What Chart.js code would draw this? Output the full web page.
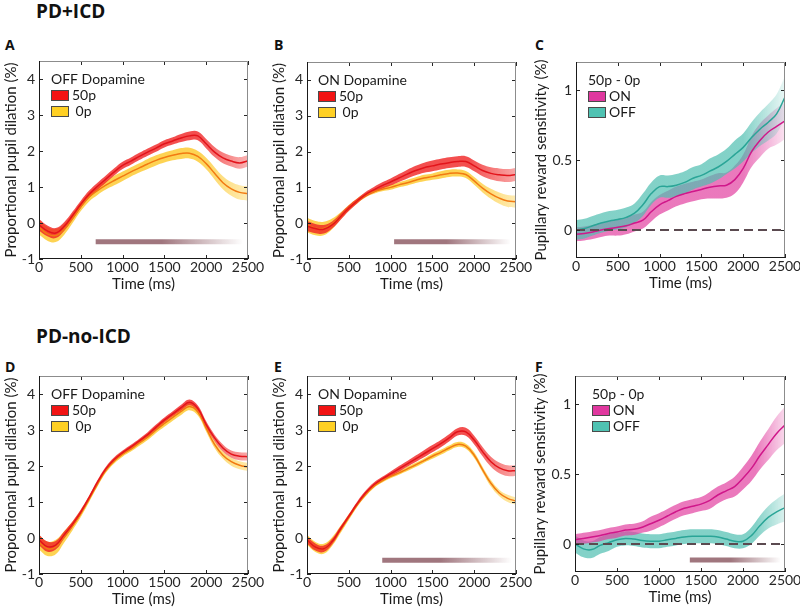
<!DOCTYPE html>
<html lang="en">
<head>
<meta charset="UTF-8">
<title>Pupil dilation</title>
<script src="https://cdn.jsdelivr.net/npm/chart.js"></script>
<style>
  body { margin:0; width:800px; height:609px; overflow:hidden; background:#fff; position:relative; }
  canvas { position:absolute; }
  .head { position:absolute; font-family:'Open Sans', sans-serif; font-weight:700; color:#111; line-height:1; }
</style>
</head>
<body>
<div class="head" style="left:36px;top:2px;font-size:19px">PD+ICD</div>
<div class="head" style="left:36px;top:327px;font-size:19px">PD-no-ICD</div>
<div class="head" style="left:5px;top:38px;font-size:14px">A</div>
<div class="head" style="left:274px;top:38px;font-size:14px">B</div>
<div class="head" style="left:535px;top:38px;font-size:14px">C</div>
<div class="head" style="left:5px;top:360px;font-size:14px">D</div>
<div class="head" style="left:274px;top:360px;font-size:14px">E</div>
<div class="head" style="left:535px;top:360px;font-size:14px">F</div>

<canvas id="cA"></canvas>
<canvas id="cB"></canvas>
<canvas id="cC"></canvas>
<canvas id="cD"></canvas>
<canvas id="cE"></canvas>
<canvas id="cF"></canvas>

<script>
// time axis (ms) and tick labels
const timeMs = [0,100,200,300,400,500,600,700,800,900,1000,1100,1200,1300,1400,1500,1600,1700,1800,1900,2000,2100,2200,2300,2400,2500];
const xTicks = [0,500,1000,1500,2000,2500];
const dilationTicks = [-1,0,1,2,3,4];
const sensTicks = [0,0.5,1];

// A: PD+ICD, OFF dopamine
const a50Mean = [-0.05,-0.22,-0.28,-0.1,0.2,0.52,0.8,1.02,1.22,1.42,1.6,1.72,1.85,1.97,2.08,2.2,2.28,2.36,2.42,2.42,2.2,1.97,1.81,1.72,1.67,1.73];
const a50Sem  = [0.16,0.15,0.14,0.12,0.11,0.1,0.1,0.1,0.1,0.1,0.1,0.1,0.1,0.1,0.1,0.1,0.1,0.11,0.12,0.12,0.13,0.14,0.15,0.15,0.16,0.16];
const a0Mean  = [-0.12,-0.3,-0.35,-0.18,0.12,0.45,0.72,0.9,1.05,1.18,1.3,1.42,1.53,1.64,1.74,1.82,1.88,1.93,1.94,1.85,1.65,1.38,1.12,0.95,0.85,0.82];
const a0Sem   = [0.2,0.19,0.18,0.15,0.13,0.12,0.12,0.12,0.12,0.13,0.13,0.13,0.13,0.14,0.14,0.14,0.14,0.15,0.15,0.15,0.16,0.17,0.18,0.19,0.2,0.2];
const aSig = [678, 2440, -0.52];

// B: PD+ICD, ON dopamine
const b50Mean = [-0.08,-0.15,-0.17,-0.05,0.18,0.42,0.62,0.8,0.93,1.05,1.15,1.26,1.37,1.47,1.55,1.6,1.65,1.69,1.72,1.72,1.6,1.47,1.39,1.35,1.33,1.36];
const b50Sem  = [0.14,0.13,0.12,0.1,0.09,0.08,0.07,0.07,0.08,0.09,0.1,0.11,0.12,0.13,0.14,0.15,0.15,0.15,0.15,0.15,0.15,0.16,0.17,0.18,0.18,0.18];
const b0Mean  = [-0.05,-0.14,-0.15,-0.02,0.2,0.43,0.62,0.78,0.88,0.95,1.0,1.07,1.13,1.2,1.26,1.3,1.35,1.39,1.4,1.36,1.18,0.98,0.82,0.7,0.62,0.6];
const b0Sem   = [0.2,0.2,0.19,0.15,0.1,0.08,0.07,0.06,0.06,0.06,0.07,0.07,0.08,0.08,0.09,0.09,0.1,0.1,0.1,0.1,0.11,0.12,0.14,0.16,0.17,0.17];
const bSig = [1042, 2436, -0.52];

// C: PD+ICD, 50p - 0p
const cOnMean  = [-0.03,-0.025,-0.015,0.0,0.01,0.02,0.03,0.05,0.07,0.13,0.18,0.21,0.24,0.26,0.275,0.29,0.305,0.315,0.32,0.36,0.44,0.56,0.64,0.7,0.74,0.78];
const cOnSem   = [0.05,0.05,0.05,0.05,0.05,0.06,0.06,0.06,0.06,0.07,0.07,0.07,0.07,0.07,0.07,0.07,0.08,0.09,0.09,0.1,0.1,0.11,0.12,0.12,0.13,0.13];
const cOffMean = [0.0,0.01,0.03,0.05,0.065,0.075,0.09,0.12,0.18,0.26,0.31,0.31,0.32,0.34,0.37,0.39,0.42,0.45,0.49,0.54,0.59,0.66,0.72,0.77,0.83,0.95];
const cOffSem  = [0.07,0.07,0.07,0.07,0.07,0.07,0.07,0.07,0.08,0.08,0.08,0.08,0.08,0.08,0.08,0.08,0.09,0.09,0.09,0.1,0.1,0.11,0.12,0.13,0.14,0.15];

// D: PD-no-ICD, OFF dopamine
const d50Mean = [-0.05,-0.24,-0.2,0.08,0.38,0.72,1.12,1.55,1.92,2.18,2.37,2.53,2.7,2.87,3.08,3.28,3.45,3.62,3.77,3.6,3.15,2.78,2.5,2.33,2.27,2.26];
const d50Sem  = [0.15,0.14,0.12,0.1,0.08,0.07,0.06,0.06,0.06,0.06,0.06,0.06,0.06,0.07,0.07,0.07,0.07,0.08,0.08,0.08,0.09,0.09,0.1,0.1,0.11,0.11];
const d0Mean  = [-0.12,-0.3,-0.25,0.03,0.33,0.68,1.08,1.5,1.88,2.14,2.33,2.47,2.64,2.8,3.0,3.18,3.35,3.52,3.65,3.5,3.05,2.6,2.3,2.12,2.02,1.97];
const d0Sem   = [0.2,0.2,0.2,0.16,0.12,0.1,0.08,0.07,0.07,0.07,0.07,0.07,0.08,0.08,0.08,0.09,0.09,0.1,0.1,0.1,0.1,0.1,0.1,0.11,0.11,0.11];

// E: PD-no-ICD, ON dopamine
const e50Mean = [-0.05,-0.25,-0.3,-0.1,0.25,0.6,0.95,1.25,1.48,1.64,1.78,1.92,2.06,2.2,2.34,2.48,2.62,2.78,2.95,2.95,2.72,2.4,2.12,1.95,1.87,1.87];
const e50Sem  = [0.1,0.1,0.09,0.08,0.07,0.06,0.06,0.06,0.06,0.06,0.07,0.08,0.08,0.09,0.1,0.1,0.1,0.1,0.1,0.11,0.12,0.13,0.14,0.15,0.15,0.15];
const e0Mean  = [-0.05,-0.25,-0.3,-0.1,0.23,0.58,0.92,1.21,1.44,1.59,1.71,1.81,1.92,2.03,2.15,2.27,2.38,2.5,2.6,2.55,2.3,1.9,1.52,1.25,1.1,1.03];
const e0Sem   = [0.14,0.14,0.14,0.12,0.1,0.08,0.06,0.06,0.05,0.05,0.05,0.05,0.06,0.06,0.06,0.07,0.07,0.07,0.07,0.07,0.08,0.08,0.09,0.09,0.1,0.1];
const eSig = [900, 2450, -0.62];

// F: PD-no-ICD, 50p - 0p
const fOnMean  = [0.03,0.04,0.05,0.06,0.075,0.085,0.1,0.105,0.12,0.145,0.17,0.2,0.23,0.255,0.27,0.285,0.31,0.35,0.38,0.41,0.47,0.54,0.63,0.71,0.79,0.85];
const fOnSem   = [0.04,0.04,0.04,0.04,0.04,0.04,0.04,0.04,0.04,0.05,0.05,0.05,0.05,0.05,0.05,0.05,0.06,0.06,0.06,0.07,0.08,0.09,0.1,0.11,0.12,0.13];
const fOffMean = [0.0,-0.035,-0.04,-0.01,0.01,0.03,0.04,0.035,0.025,0.02,0.02,0.03,0.04,0.05,0.055,0.055,0.055,0.05,0.035,0.02,0.02,0.06,0.13,0.19,0.23,0.26];
const fOffSem  = [0.06,0.06,0.06,0.06,0.06,0.05,0.05,0.05,0.05,0.05,0.05,0.05,0.05,0.05,0.05,0.05,0.05,0.05,0.05,0.05,0.05,0.06,0.07,0.08,0.09,0.1];
const fSig = [1367, 2450, -0.115];

Chart.defaults.font.family = 'Lato, sans-serif';
Chart.defaults.font.size = 14;
Chart.defaults.color = '#262626';

const RED = {band:'240,35,35', line:'#e3141b', box:'#f21414'};
const YEL = {band:'253,200,40', line:'#f27a12', box:'#ffd024'};
const MAG = {band:'226,64,160', line:'#d0178a', box:'#e0389f'};
const TEA = {band:'78,190,176', line:'#2aa597', box:'#4fc2b2'};

function pts(vals, sem, sign) {
  return timeMs.map((t, i) => ({x: t, y: vals[i] + (sem ? sign * sem[i] : 0)}));
}

function fadeFill(rgb, a0, a1, tStart) {
  return ctx => {
    const ch = ctx.chart, area = ch.chartArea;
    if (!area) return 'rgba(' + rgb + ',' + a0 + ')';
    const f = (ch.scales.x.getPixelForValue(tStart) - area.left) / (area.right - area.left);
    const g = ch.ctx.createLinearGradient(area.left, 0, area.right, 0);
    g.addColorStop(0, 'rgba(' + rgb + ',' + a0 + ')');
    g.addColorStop(Math.min(Math.max(f, 0), 1), 'rgba(' + rgb + ',' + a0 + ')');
    g.addColorStop(1, 'rgba(' + rgb + ',' + a1 + ')');
    return g;
  };
}

function seriesSets(mean, sem, col, z, alpha, fade) {
  return [
    {data: pts(mean, sem, 1), fill: '+1', backgroundColor: fadeFill(col.band, alpha, fade[1], fade[0]),
     borderWidth: 0, borderColor: 'transparent', order: 10 + z},
    {data: pts(mean, sem, -1), fill: false, borderWidth: 0, borderColor: 'transparent', order: 10 + z},
    {data: pts(mean), fill: false, borderColor: col.line, borderWidth: 1.5, order: z}
  ];
}

function sigSet(sig) {
  return {
    data: [{x: sig[0], y: sig[2]}, {x: sig[1], y: sig[2]}],
    fill: false, borderWidth: 5, borderCapStyle: 'butt', tension: 0, order: 0,
    borderColor: ctx => {
      const ch = ctx.chart;
      if (!ch.chartArea) return 'rgb(160,118,126)';
      const x0 = ch.scales.x.getPixelForValue(sig[0]), x1 = ch.scales.x.getPixelForValue(sig[1]);
      const g = ch.ctx.createLinearGradient(x0, 0, x1, 0);
      g.addColorStop(0, 'rgba(160,118,126,1)');
      g.addColorStop(0.45, 'rgba(160,118,126,1)');
      g.addColorStop(1, 'rgba(160,118,126,0)');
      return g;
    }
  };
}

function zeroSet() {
  return {data: [{x: 0, y: 0}, {x: 2500, y: 0}], fill: false, borderWidth: 2,
          borderDash: [9, 5], borderColor: '#5b4a50', tension: 0, order: 0};
}

// box round the axes with inward ticks
const axisBox = {
  id: 'axisBox',
  afterDatasetsDraw(chart) {
    const {ctx, chartArea: a, scales: {x, y}} = chart;
    ctx.save();
    ctx.lineWidth = 1;
    ctx.strokeStyle = '#262626';
    ctx.beginPath();
    x.ticks.forEach(t => {
      const px = Math.round(x.getPixelForValue(t.value)) + 0.5;
      ctx.moveTo(px, a.bottom); ctx.lineTo(px, a.bottom - 4);
      ctx.moveTo(px, a.top); ctx.lineTo(px, a.top + 4);
    });
    y.ticks.forEach(t => {
      const py = Math.round(y.getPixelForValue(t.value)) + 0.5;
      ctx.moveTo(a.left, py); ctx.lineTo(a.left + 4, py);
      ctx.moveTo(a.right, py); ctx.lineTo(a.right - 4, py);
    });
    ctx.stroke();
    ctx.strokeStyle = '#8c8c8c';
    ctx.beginPath();
    ctx.moveTo(a.left, a.top + 0.5); ctx.lineTo(a.right - 0.5, a.top + 0.5); ctx.lineTo(a.right - 0.5, a.bottom);
    ctx.stroke();
    ctx.strokeStyle = '#1a1a1a';
    ctx.beginPath();
    ctx.moveTo(a.left + 0.5, a.top); ctx.lineTo(a.left + 0.5, a.bottom - 0.5); ctx.lineTo(a.right, a.bottom - 0.5);
    ctx.stroke();
    ctx.restore();
  }
};

// MATLAB-like legend inside the axes
const boxLegend = {
  id: 'boxLegend',
  afterDraw(chart, args, opts) {
    const {ctx, chartArea: a} = chart;
    const x0 = a.left + opts.dx;
    ctx.save();
    ctx.font = '14px Lato, sans-serif';
    ctx.textBaseline = 'middle';
    ctx.fillStyle = '#1a1a1a';
    ctx.fillText(opts.title, x0, a.top + 18);
    opts.items.forEach((it, i) => {
      const y = a.top + 29 + i * 16;
      ctx.fillStyle = it.color;
      ctx.fillRect(x0, y, 17, 10);
      ctx.strokeStyle = '#4a4a4a';
      ctx.strokeRect(x0 + 0.5, y + 0.5, 17, 10);
      ctx.fillStyle = '#1a1a1a';
      ctx.fillText(it.label, x0 + 21, y + 5.5);
    });
    ctx.restore();
  }
};

function makePanel(id, geo, yMin, yMax, yTicks, yTitle, datasets, legend) {
  const cv = document.getElementById(id);
  const padTop = 12, xH = 38;
  const w = geo.yW + geo.W + geo.padR, h = padTop + geo.H + xH;
  cv.style.left = (geo.L - geo.yW) + 'px';
  cv.style.top = (geo.T - padTop) + 'px';
  cv.style.width = w + 'px';
  cv.style.height = h + 'px';
  cv.width = w; cv.height = h;
  return new Chart(cv, {
    type: 'line',
    data: {datasets: datasets},
    options: {
      responsive: false,
      animation: false,
      devicePixelRatio: 1,
      layout: {padding: {top: padTop, right: geo.padR, left: 0, bottom: 0}},
      elements: {point: {radius: 0}, line: {tension: 0.4}},
      plugins: {legend: {display: false}, tooltip: {enabled: false}, boxLegend: legend},
      scales: {
        x: {
          type: 'linear', min: 0, max: 2500,
          grid: {display: false, drawTicks: false}, border: {display: false},
          afterBuildTicks: s => { s.ticks = xTicks.map(v => ({value: v})); },
          afterFit: s => { s.height = xH; s.paddingLeft = 0; s.paddingRight = 0; },
          ticks: {padding: 0, maxRotation: 0, autoSkip: false, color: '#262626', callback: v => String(v)},
          title: {display: true, text: 'Time (ms)', padding: {top: 0, bottom: 4}, color: '#1a1a1a', font: {size: 15}}
        },
        y: {
          type: 'linear', min: yMin, max: yMax,
          grid: {display: false, drawTicks: false}, border: {display: false},
          afterBuildTicks: s => { s.ticks = yTicks.map(v => ({value: v})); },
          afterFit: s => { s.width = geo.yW; s.paddingTop = 0; s.paddingBottom = 0; },
          ticks: {padding: 4, color: '#262626', callback: v => String(v)},
          title: {display: true, text: yTitle, padding: {top: 2, bottom: 0}, color: '#1a1a1a', font: {size: 15}}
        }
      }
    },
    plugins: [axisBox, boxLegend]
  });
}

const dilTitle = 'Proportional pupil dilation (%)';
const sensTitle = 'Pupillary reward sensitivity (%)';

makePanel('cA', {L: 39, T: 61, W: 209, H: 198, yW: 39, padR: 20}, -1, 4.5, dilationTicks, dilTitle,
  [...seriesSets(a50Mean, a50Sem, RED, 1, 0.8, [1900, 0.35]), ...seriesSets(a0Mean, a0Sem, YEL, 2, 0.8, [1900, 0.35]), sigSet(aSig)],
  {dx: 12, title: 'OFF Dopamine', items: [{label: '50p', color: RED.box}, {label: ' 0p', color: YEL.box}]});

makePanel('cB', {L: 307, T: 62, W: 209, H: 197, yW: 39, padR: 20}, -1, 4.5, dilationTicks, dilTitle,
  [...seriesSets(b50Mean, b50Sem, RED, 1, 0.8, [1950, 0.4]), ...seriesSets(b0Mean, b0Sem, YEL, 2, 0.8, [1950, 0.35]), sigSet(bSig)],
  {dx: 11, title: 'ON Dopamine', items: [{label: '50p', color: RED.box}, {label: ' 0p', color: YEL.box}]});

makePanel('cC', {L: 576, T: 62, W: 209, H: 196, yW: 46, padR: 15}, -0.2, 1.2, sensTicks, sensTitle,
  [...seriesSets(cOffMean, cOffSem, TEA, 2, 0.7, [2000, 0.12]), ...seriesSets(cOnMean, cOnSem, MAG, 3, 0.7, [2000, 0.15]), zeroSet()],
  {dx: 12, title: '50p - 0p', items: [{label: 'ON', color: MAG.box}, {label: 'OFF', color: TEA.box}]});

makePanel('cD', {L: 39, T: 376, W: 209, H: 198, yW: 39, padR: 20}, -1, 4.5, dilationTicks, dilTitle,
  [...seriesSets(d50Mean, d50Sem, RED, 1, 0.8, [1900, 0.4]), ...seriesSets(d0Mean, d0Sem, YEL, 2, 0.8, [1900, 0.4])],
  {dx: 12, title: 'OFF Dopamine', items: [{label: '50p', color: RED.box}, {label: ' 0p', color: YEL.box}]});

makePanel('cE', {L: 307, T: 376, W: 209, H: 198, yW: 39, padR: 20}, -1, 4.5, dilationTicks, dilTitle,
  [...seriesSets(e50Mean, e50Sem, RED, 1, 0.8, [1950, 0.4]), ...seriesSets(e0Mean, e0Sem, YEL, 2, 0.8, [1950, 0.4]), sigSet(eSig)],
  {dx: 11, title: 'ON Dopamine', items: [{label: '50p', color: RED.box}, {label: ' 0p', color: YEL.box}]});

makePanel('cF', {L: 575, T: 376, W: 210, H: 196, yW: 46, padR: 15}, -0.2, 1.2, sensTicks, sensTitle,
  [...seriesSets(fOnMean, fOnSem, MAG, 2, 0.7, [2150, 0.2]), ...seriesSets(fOffMean, fOffSem, TEA, 3, 0.7, [2150, 0.2]), sigSet(fSig), zeroSet()],
  {dx: 17, title: '50p - 0p', items: [{label: 'ON', color: MAG.box}, {label: 'OFF', color: TEA.box}]});
</script>
</body>
</html>
